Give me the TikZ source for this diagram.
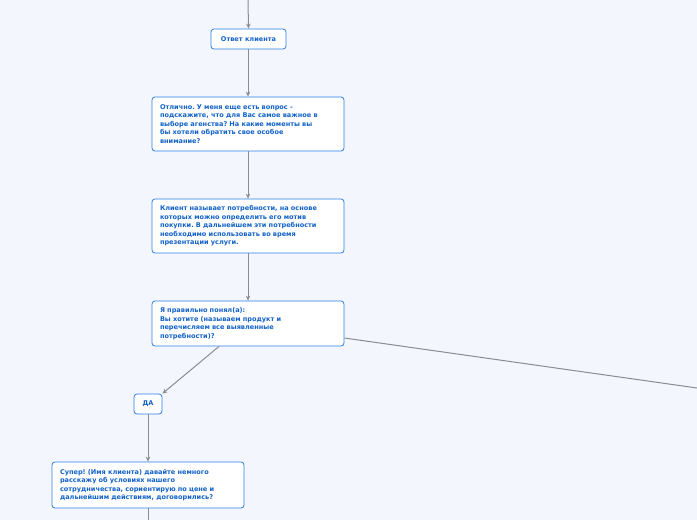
\documentclass[tikz,border=0pt]{standalone}
\usepackage{fontspec}
\setmainfont{DejaVu Sans}
\usetikzlibrary{arrows.meta,calc}
\definecolor{bg}{HTML}{F3F6FD}
\definecolor{bd}{HTML}{2F80E6}
\definecolor{tx}{HTML}{1262C8}
\definecolor{ln}{HTML}{8A8C92}
\tikzset{
  card/.style={draw=bd, fill=white, rounded corners=3pt, line width=0.8pt,
    text=tx, font=\frenchspacing\fontsize{6.55}{8.5}\selectfont\bfseries, inner xsep=0pt, inner ysep=0pt},
  wide/.style={card, minimum width=192pt, text width=176pt, align=left},
  small/.style={card, minimum height=20pt, align=center},
  conn/.style={draw=ln, line width=1pt, -{Stealth[length=5pt,width=4.5pt]}},
  plain/.style={draw=ln, line width=1pt}
}
\begin{document}
\begin{tikzpicture}[x=1pt,y=-1pt]
\useasboundingbox[fill=bg] (0,0) rectangle (697,520);
\node[small, minimum width=75pt] (b1) at (248.5,39) {Ответ клиента};
\node[wide, minimum height=54pt] (b2) at (248,124) {Отлично. У меня еще есть вопрос -\\подскажите, что для Вас самое важное в\\выборе агенства? На какие моменты вы\\бы хотели обратить свое особое\\внимание?};
\node[wide, minimum height=54pt] (b3) at (248,226) {Клиент называет потребности, на основе\\которых можно определить его мотив\\покупки. В дальнейшем эти потребности\\необходимо использовать во время\\презентации услуги.};
\node[wide, minimum height=45pt] (b4) at (248,323.5) {Я правильно понял(а):\\Вы хотите (называем продукт и\\перечисляем все выявленные\\потребности)?};
\node[small, minimum width=28pt] (b5) at (148,404) {ДА};
\node[wide, minimum height=46pt] (b6) at (148,485) {Супер! (Имя клиента) давайте немного\\расскажу об условиях нашего\\сотрудничества, сориентирую по цене и\\дальнейшим действиям, договорились?};
\coordinate (top) at (248,0);
\coordinate (bot) at (148,520);
\coordinate (right) at (697,388);
\coordinate (b4r) at ($(b4.east)+(0,14.5)$);
\coordinate (b4l) at ($(b4.south)+(-29,0)$);
\draw[conn] (top) -- (b1.north);
\draw[conn] (b1.south -| b2.north) -- (b2.north);
\draw[conn] (b2) -- (b3);
\draw[conn] (b3) -- (b4);
\draw[conn] (b4l) -- (b5.north east);
\draw[conn] (b5) -- (b6);
\draw[plain] (b6.south) -- (bot);
\draw[plain] (b4r) -- (right);
\end{tikzpicture}
\end{document}
